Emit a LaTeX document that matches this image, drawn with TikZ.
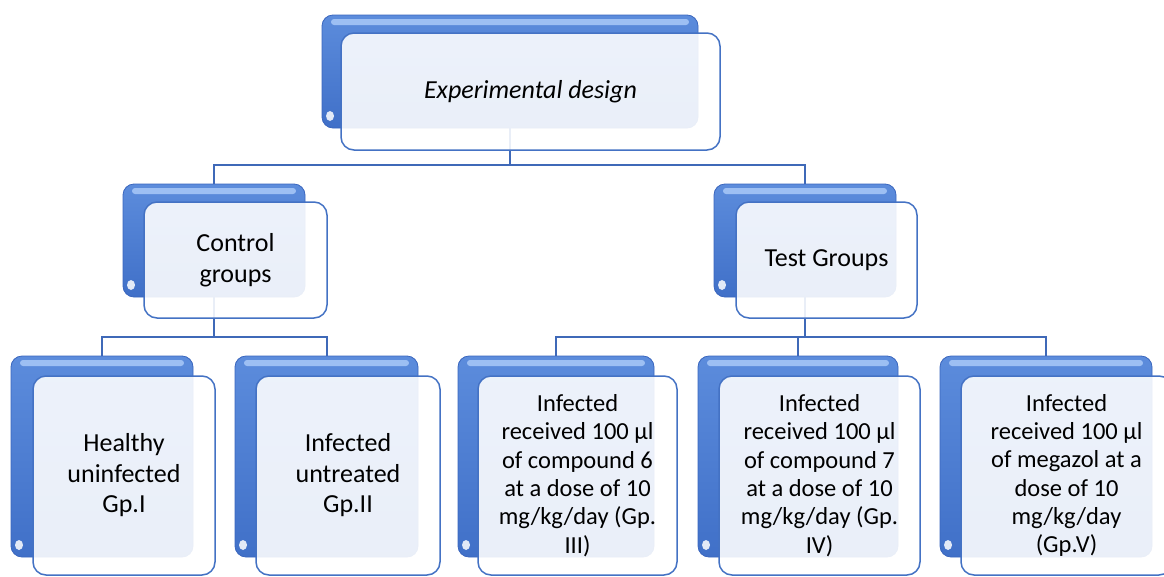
\documentclass[tikz,border=0pt]{standalone}
\usepackage{fontspec}
\setmainfont{Carlito}
\usetikzlibrary{backgrounds}
\definecolor{bdark}{HTML}{3A66BE}
\definecolor{btop}{HTML}{5C8CDC}
\definecolor{bbot}{HTML}{4070C8}
\definecolor{hlc}{HTML}{A9C9F8}
\definecolor{fedge}{HTML}{4472C4}
\definecolor{lnc}{HTML}{3F69B8}
\tikzset{
  backbox/.style={rounded corners=11pt, draw=bdark, line width=0.8pt,
    top color=btop, bottom color=bbot, inner sep=0pt,
    path picture={
      \fill[hlc, opacity=0.85, rounded corners=3pt]
        ([xshift=9pt,yshift=-4pt]path picture bounding box.north west) rectangle
        ([xshift=-9pt,yshift=-10pt]path picture bounding box.north east);
      \fill[white, opacity=0.85]
        ([xshift=8pt,yshift=12pt]path picture bounding box.south west) ellipse (4pt and 5pt);
    }},
  frontbox/.style={rounded corners=13pt, draw=fedge, line width=1.5pt,
    fill=white, fill opacity=0.89, text opacity=1, inner sep=0pt, align=center,
    font=\fontsize{26}{30.5}\selectfont},
  smalltext/.style={font=\fontsize{24.5}{28.3}\selectfont},
  conn/.style={draw=lnc, line width=2pt},
}
\begin{document}
\begin{tikzpicture}[x=1pt,y=-1pt]
\useasboundingbox (0,0) rectangle (1164,576);
\clip (0,0) rectangle (1164,576);
% level 1
\node[backbox, minimum width=376pt, minimum height=113pt] (topB) at (510,71.5) {};
\node[frontbox, minimum width=379pt, minimum height=117pt] (top) at (530.5,91.5) {\itshape Experimental design};
% level 2
\node[backbox, minimum width=182pt, minimum height=113pt] (ctrlB) at (214,240.5) {};
\node[frontbox, minimum width=183pt, minimum height=116pt] (ctrl) at (235.5,260) {Control\\groups};
\node[backbox, minimum width=182pt, minimum height=113pt] (testB) at (805,240.5) {};
\node[frontbox, minimum width=181pt, minimum height=116pt] (test) at (826.5,260) {Test Groups};
% level 3
\node[backbox, minimum width=182pt, minimum height=201pt] (g1B) at (102,456.5) {};
\node[frontbox, minimum width=182pt, minimum height=199pt] (g1) at (124,475.5) {Healthy\\uninfected\\Gp.I};
\node[backbox, minimum width=183pt, minimum height=201pt] (g2B) at (326.5,456.5) {};
\node[frontbox, minimum width=184pt, minimum height=199pt] (g2) at (348,475.5) {Infected\\untreated\\Gp.II};
\node[backbox, minimum width=196pt, minimum height=201pt] (g3B) at (556,456.5) {};
\node[frontbox, smalltext, minimum width=199pt, minimum height=199pt] (g3) at (577.5,475.5) {Infected\\received 100 µl\\of compound 6\\at a dose of 10\\mg/kg/day (Gp.\\III)};
\node[backbox, minimum width=200pt, minimum height=201pt] (g4B) at (798,456.5) {};
\node[frontbox, smalltext, minimum width=201pt, minimum height=199pt] (g4) at (819.5,475.5) {Infected\\received 100 µl\\of compound 7\\at a dose of 10\\mg/kg/day (Gp.\\IV)};
\node[backbox, minimum width=212pt, minimum height=201pt] (g5B) at (1046,456.5) {};
\node[frontbox, smalltext, minimum width=211pt, minimum height=199pt] (g5) at (1066.5,475.5) {Infected\\received 100 µl\\of megazol at a\\dose of 10\\mg/kg/day\\(Gp.V)};
\begin{pgfonlayer}{background}
\fill[white] (0,0) rectangle (1164,576);
\draw[conn] (topB.south) -- ++(0,37) -| (ctrlB.north);
\draw[conn] (topB.south) -- ++(0,37) -| (testB.north);
\draw[conn] (ctrlB.south) -- ++(0,40) -| (g1B.north);
\draw[conn] (ctrlB.south) -- ++(0,40) -| (g2B.north);
\draw[conn] (testB.south) -- ++(0,40) -| (g3B.north);
\draw[conn] (testB.south) -- ++(0,40) -| (g4B.north);
\draw[conn] (testB.south) -- ++(0,40) -| (g5B.north);
\end{pgfonlayer}
\end{tikzpicture}
\end{document}
